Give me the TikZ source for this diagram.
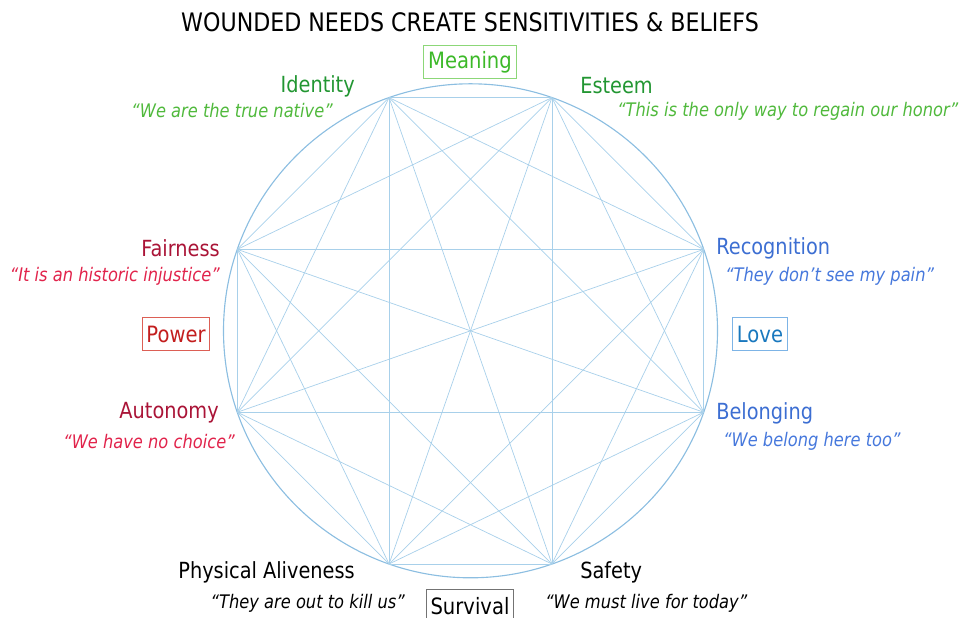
\documentclass[tikz,border=0pt]{standalone}
\usepackage{fontspec}
\setmainfont{DejaVu Sans}[FakeStretch=0.87]
\usetikzlibrary{calc}

\definecolor{linkblue}{RGB}{168,208,234}
\definecolor{ringblue}{RGB}{140,190,225}
\definecolor{idgreen}{RGB}{34,150,50}
\definecolor{qgreen}{RGB}{80,185,60}
\definecolor{mgreen}{RGB}{60,185,40}
\definecolor{bgreen}{RGB}{140,215,120}
\definecolor{frred}{RGB}{170,20,55}
\definecolor{qred}{RGB}{225,35,75}
\definecolor{pred}{RGB}{195,30,30}
\definecolor{bred}{RGB}{220,95,85}
\definecolor{rcblue}{RGB}{60,110,210}
\definecolor{qblue}{RGB}{70,120,220}
\definecolor{lvblue}{RGB}{25,120,190}
\definecolor{bblue}{RGB}{125,180,230}

\tikzset{
  need/.style={inner sep=0pt, font=\fontsize{15.8}{18}\selectfont},
  belief/.style={inner sep=0pt, font=\fontsize{13.3}{15}\selectfont\itshape},
  group/.style={draw, line width=0.7pt, inner xsep=3pt, minimum height=23pt,
    font=\fontsize{16}{18}\selectfont},
}

\begin{document}
\begin{tikzpicture}[x=0.025cm, y=-0.025cm]
		\useasboundingbox (0,0) rectangle (960,618);
		
		\node[inner sep=0pt, font=\fontsize{18.1}{20}\selectfont] (title) at (470,22) {WOUNDED NEEDS CREATE SENSITIVITIES \& BELIEFS};
		
		% ring and the eight needs on it
		\coordinate (c) at (470.5,330.8);
		\draw[ringblue, line width=0.8pt] (c) circle (247);
		\foreach \n/\a in {1/-109.25, 2/-70.75, 3/-19.25, 4/19.25, 5/70.75, 6/109.25, 7/160.75, 8/199.25}
			\coordinate (v\n) at ($(c)+(\a:247)$);
		\foreach \i in {1,...,7} {
			\pgfmathtruncatemacro\k{\i+1}
			\foreach \j in {\k,...,8}
				\draw[linkblue, line width=0.5pt] (v\i) -- (v\j);
		}
		
		\node[group, draw=bgreen, text=mgreen] (meaning) at (470,62) {Meaning};
		\node[need, text=idgreen, anchor=east] (identity) at (355,86) {Identity};
		\node[belief, text=qgreen, anchor=east] (identityq) at (333,111) {“We are the true native”};
		\node[need, text=idgreen, anchor=west] (esteem) at (580,86) {Esteem};
		\node[belief, text=qgreen, anchor=west] (esteemq) at (617,111) {“This is the only way to regain our honor”};
		
		\node[need, text=rcblue, anchor=west] (recognition) at (716,248) {Recognition};
		\node[belief, text=qblue, anchor=west] (recognitionq) at (725,276) {“They don’t see my pain”};
		\node[group, draw=bblue, text=lvblue] (love) at (760,334) {Love};
		\node[need, text=rcblue, anchor=west] (belonging) at (716,413) {Belonging};
		\node[belief, text=qblue, anchor=west] (belongingq) at (723,441) {“We belong here too”};
		
		\node[need, text=frred, anchor=east] (fairness) at (220,248) {Fairness};
		\node[belief, text=qred, anchor=east] (fairnessq) at (220,276) {“It is an historic injustice”};
		\node[group, draw=bred, text=pred] (power) at (176,334) {Power};
		\node[need, text=frred, anchor=east] (autonomy) at (219,413) {Autonomy};
		\node[belief, text=qred, anchor=east] (autonomyq) at (235,442) {“We have no choice”};
		
		\node[need, anchor=east] (aliveness) at (355,572) {Physical Aliveness};
		\node[belief, anchor=east] (alivenessq) at (405,603) {“They are out to kill us”};
		\node[group, draw=black!55, anchor=north] (survival) at (470,589) {Survival};
		\node[need, anchor=west] (safety) at (580,572) {Safety};
		\node[belief, anchor=west] (safetyq) at (545,603) {“We must live for today”};
		
	\end{tikzpicture}
\end{document}
